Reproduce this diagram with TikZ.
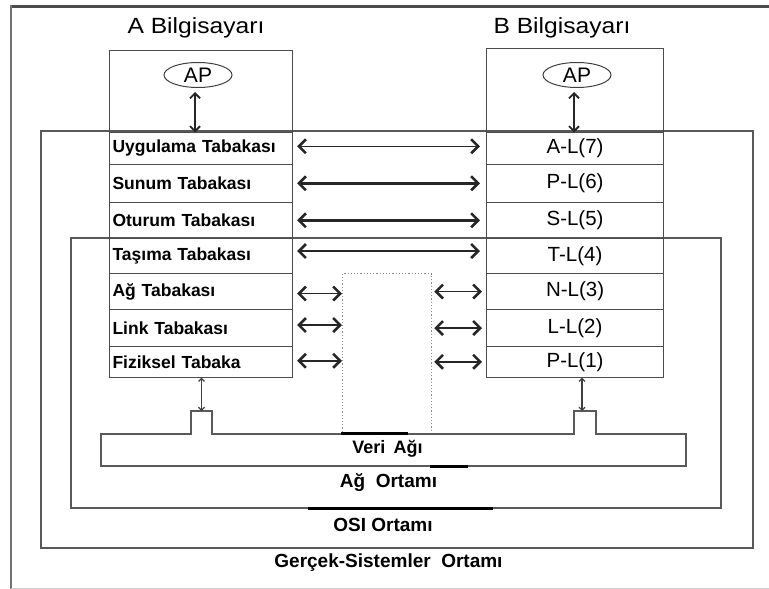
\documentclass[tikz,border=0pt]{standalone}
\usepackage{fontspec}
\setmainfont{Liberation Sans}
\newfontfamily\titlefont[FakeStretch=1.12]{Liberation Sans}
\usetikzlibrary{arrows.meta,shapes.geometric}
\begin{document}
\begin{tikzpicture}[x=1pt,y=-1pt,
  frameline/.style={draw=black!65,line width=1.4pt},
  layerA/.style={draw=black!70,line width=1.1pt,rectangle,text width=177pt,inner xsep=3pt,inner ysep=0pt,align=left,
    font=\bfseries\fontsize{17.5}{19}\selectfont,anchor=north west},
  layerB/.style={draw=black!70,line width=1.1pt,rectangle,minimum width=177pt,inner sep=0pt,
    font=\fontsize{20.5}{22}\selectfont,anchor=north west},
  topbox/.style={draw=black!70,line width=1.1pt,rectangle,inner sep=0pt,anchor=north west},
  apnode/.style={draw=black!75,line width=1pt,ellipse,minimum width=68pt,minimum height=25pt,inner sep=0pt,
    font=\fontsize{21}{22}\selectfont},
  title/.style={font=\titlefont\fontsize{22}{24}\selectfont},
  envlabel/.style={font=\bfseries\fontsize{19}{21}\selectfont},
  tip/.tip={Straight Barb[length=7pt,width=14pt,line width=2.6pt]},
  longarrow/.style={{tip}-{tip},black!85},
  shortarrow/.style={{tip}-{tip},black!85,line width=1.8pt},
  vtip/.tip={Straight Barb[length=5pt,width=10pt,line width=1.8pt]},
  varrow/.style={{vtip}-{vtip},black!85,line width=1.5pt},
  thinarrow/.style={{Straight Barb[length=3pt,width=6pt,line width=1.2pt]}-{Straight Barb[length=3pt,width=6pt,line width=1.2pt]},black!75,line width=1.1pt},
  blackbar/.style={black,line width=3pt}
]
\useasboundingbox (0,0) rectangle (769,589);
% page frame
\draw[black!70,line width=3pt] (10,6) -- (769,6);
\draw[black!55,line width=1.6pt] (11,5) -- (11,589);
\draw[black!20,line width=0.8pt] (11,588) -- (769,588);

% environments
\draw[frameline] (41,131) rectangle (753,548);
\draw[frameline] (71,238) rectangle (721,508);

% titles
\node[title] (tA) at (196,28) {A Bilgisayarı};
\node[title] (tB) at (562,28) {B Bilgisayarı};

% top (application) boxes
\node[topbox,minimum width=183pt,minimum height=81.5pt] (atop) at (109,50) {};
\node[topbox,minimum width=177pt,minimum height=83.5pt] (btop) at (486,48) {};

% A layers
\node[layerA,minimum height=32.5pt] (a7) at (109,131.5) {Uygulama Tabakası};
\node[layerA,minimum height=37.5pt] (a6) at (109,164) {Sunum Tabakası};
\node[layerA,minimum height=36.5pt] (a5) at (109,201.5) {Oturum Tabakası};
\node[layerA,minimum height=35pt] (a4) at (109,238) {Taşıma Tabakası};
\node[layerA,minimum height=36pt] (a3) at (109,273) {Ağ Tabakası};
\node[layerA,minimum height=37pt] (a2) at (109,309) {Link Tabakası};
\node[layerA,minimum height=30.5pt] (a1) at (109,346) {Fiziksel Tabaka};

% B layers
\node[layerB,minimum height=32.5pt] (b7) at (486,131.5) {A-L(7)};
\node[layerB,minimum height=37.5pt] (b6) at (486,164) {P-L(6)};
\node[layerB,minimum height=36.5pt] (b5) at (486,201.5) {S-L(5)};
\node[layerB,minimum height=35pt] (b4) at (486,238) {T-L(4)};
\node[layerB,minimum height=36pt] (b3) at (486,273) {N-L(3)};
\node[layerB,minimum height=37pt] (b2) at (486,309) {L-L(2)};
\node[layerB,minimum height=30.5pt] (b1) at (486,346) {P-L(1)};

% AP
\node[apnode] (apA) at (198,75) {AP};
\node[apnode] (apB) at (577,75) {AP};
\draw[varrow] ([xshift=-3pt,yshift=-4pt]apA.south) -- ([xshift=-3pt,yshift=-1pt]apA.south |- a7.north);
\draw[varrow] ([xshift=-3pt,yshift=-4pt]apB.south) -- ([xshift=-3pt,yshift=-1pt]apB.south |- b7.north);

% middle dotted relay box
\node[draw=black!45,dotted,line width=1.2pt,rectangle,minimum width=89pt,minimum height=161pt,inner sep=0pt,anchor=north west] (mid) at (342,273) {};

% peer arrows (upper layers)
\draw[longarrow,line width=1.6pt] ([xshift=4pt,yshift=2pt]a7.east) -- ([xshift=-6pt,yshift=2pt]b7.west);
\draw[longarrow,line width=2.6pt] ([xshift=4pt,yshift=0pt]a6.east) -- ([xshift=-6pt]b6.west);
\draw[longarrow,line width=3.2pt] ([xshift=4pt,yshift=0pt]a5.east) -- ([xshift=-6pt]b5.west);
\draw[longarrow,line width=2.2pt] ([xshift=4pt,yshift=5pt]a4.east) -- ([xshift=-6pt,yshift=5pt]b4.west);

% lower layers to relay
\foreach \l/\dy/\ey in {3/-2/0,2/3/0,1/1/0}{
  \draw[shortarrow] ([xshift=4pt,yshift=\dy pt]a\l.east) -- ([yshift=\dy pt]mid.west |- a\l.east);
  \draw[shortarrow] ([xshift=2pt,yshift=\ey pt]mid.east |- b\l.west) -- ([xshift=-4pt,yshift=\ey pt]b\l.west);
}

% data network
\coordinate (bumpA) at (201.5,411);
\coordinate (bumpB) at (582,411);
\draw[draw=black!65,line width=1.3pt,fill=white]
  (101,434) -- (191,434) -- (191,411) -- (212,411) -- (212,434) -- (574,434) -- (574,411) -- (596,411)
  -- (596,434) -- (686,434) -- (686,466) -- (101,466) -- cycle;
\draw[thinarrow] (a1.south -| bumpA) -- (bumpA);
\draw[thinarrow] (b1.south -| bumpB) -- (bumpB);

% black bars
\draw[blackbar] (341,433.5) -- (408,433.5);
\draw[blackbar] (430,466) -- (468,466);
\draw[blackbar] (308,508) -- (493,508);

% environment labels
\node[envlabel,font=\bfseries\fontsize{18}{20}\selectfont] (lveri) at (387.5,449) {Veri\hspace{0.45em}Ağı};
\node[envlabel] (lag) at (388.5,483) {Ağ\ \ Ortamı};
\node[envlabel] (losi) at (383,525) {OSI Ortamı};
\node[envlabel] (lgs) at (388.5,563) {Gerçek-Sistemler\ \ Ortamı};
\end{tikzpicture}
\end{document}
